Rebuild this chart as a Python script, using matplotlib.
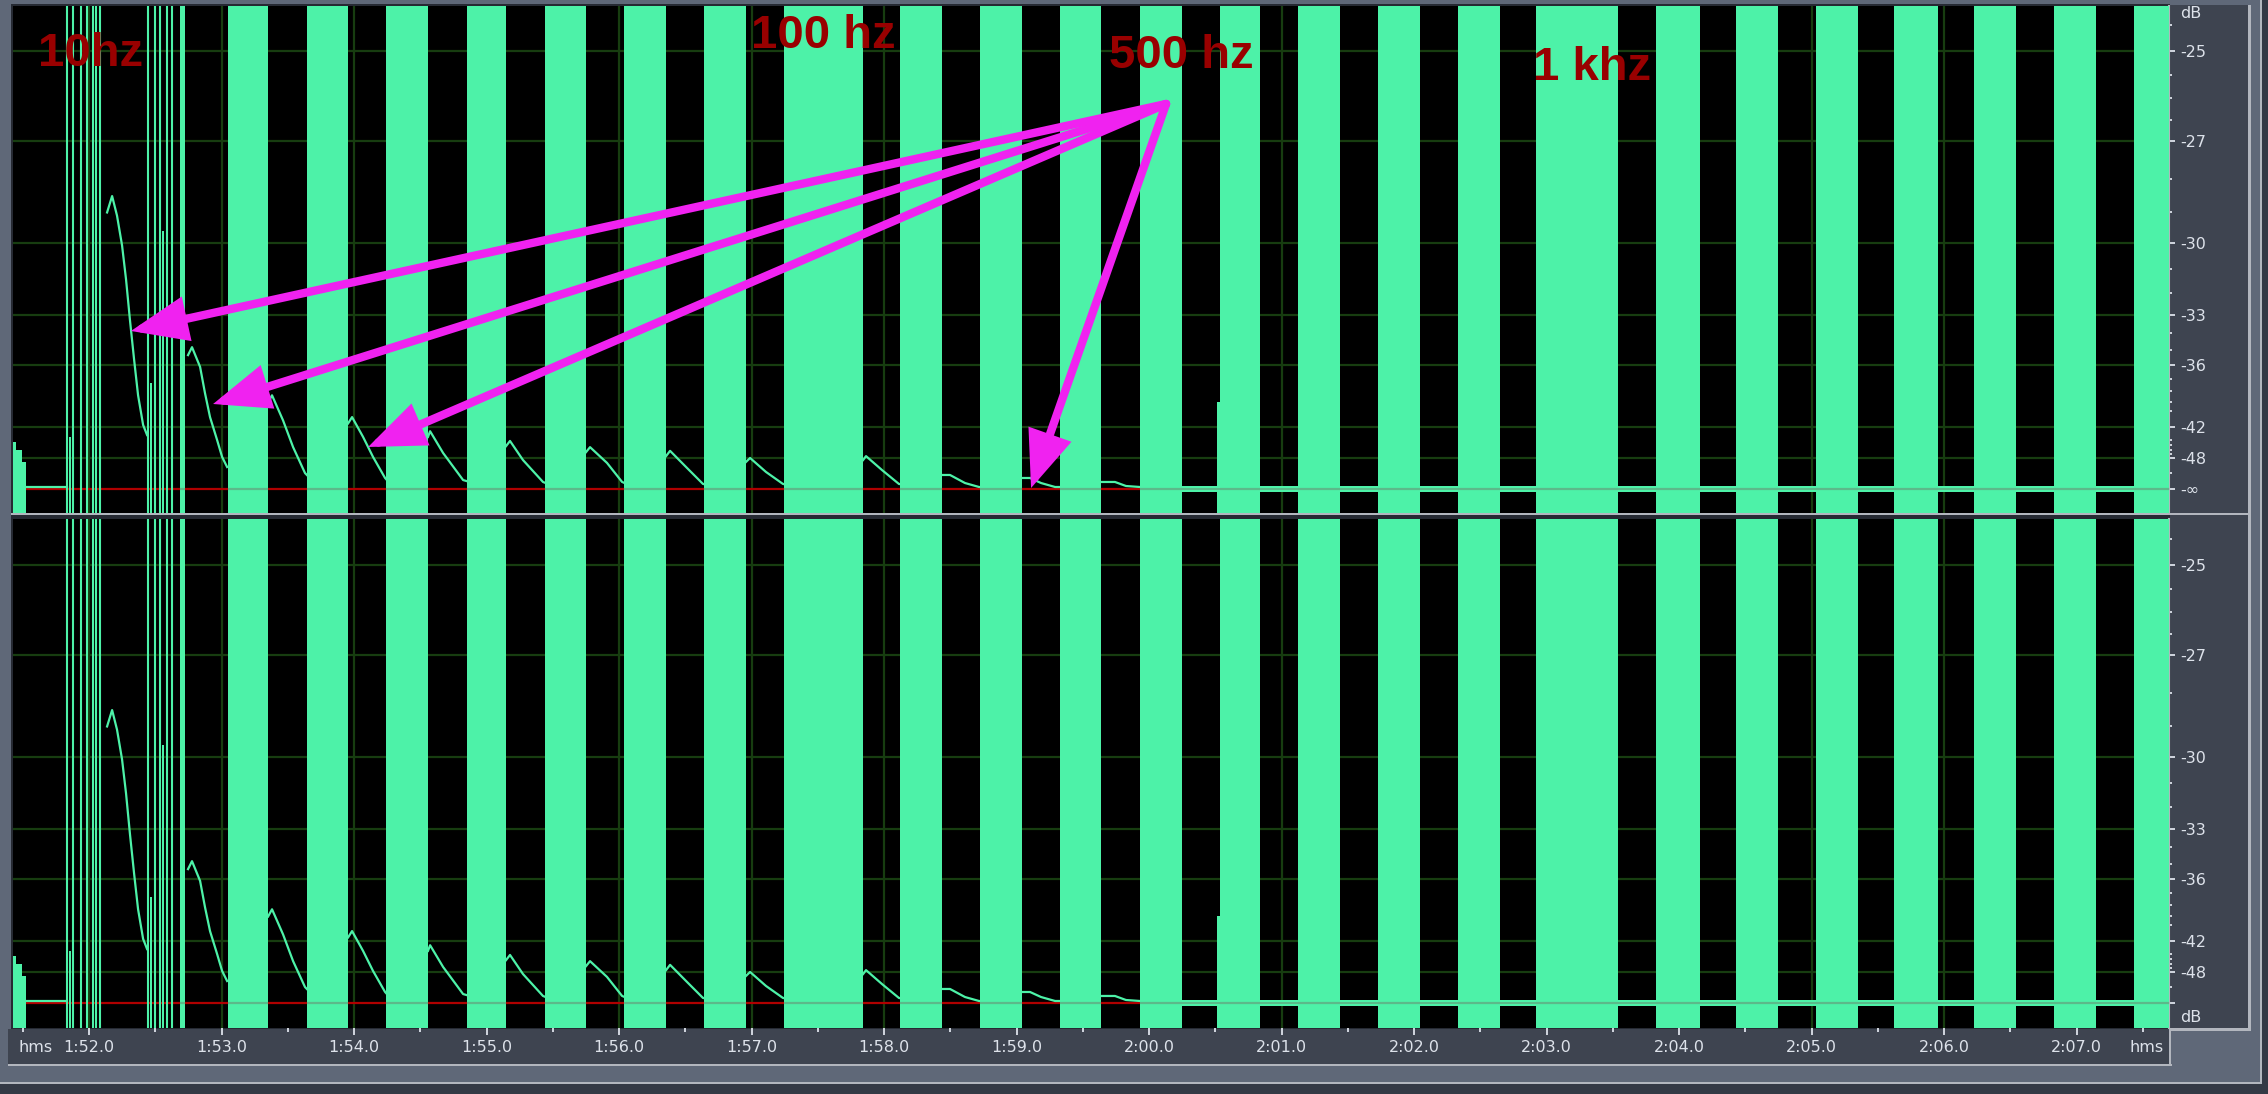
import numpy as np
import matplotlib.pyplot as plt
from matplotlib.patches import Rectangle

# ---- data (time in seconds, level in dBFS) ----
block_start = [112.687, 113.049, 113.645, 114.242, 114.853, 115.442, 116.038, 116.642,
               117.245, 118.121, 118.725, 119.328, 119.932, 120.536, 121.125, 121.728,
               122.332, 122.921, 123.826, 124.430, 125.034, 125.623, 126.226, 126.830,
               127.434]
block_end = [112.725, 113.351, 113.955, 114.558, 115.147, 115.751, 116.355, 116.958,
             117.842, 118.438, 119.042, 119.638, 120.249, 120.838, 121.442, 122.045,
             122.649, 123.540, 124.158, 124.747, 125.351, 125.955, 126.543, 127.147,
             127.750]

# thin full-height transients (10 hz and 100 hz bursts)
line_t = [111.834, 111.879, 111.940, 111.985, 112.030, 112.053, 112.083,
          112.445, 112.498, 112.536, 112.589, 112.626]

# partial-height pieces
partial_start = [111.845, 112.133, 112.463, 112.553, 120.513]
partial_end = [111.862, 112.139, 112.475, 112.563, 120.536]
partial_db = [-43.5, -29.0, -37.3, -29.6, -39.0]

burst_t = [111.426, 111.449, 111.494, 111.525]
burst_db = [-44.4, -46.0, -49.2, -49.2]

floor_t = [111.525, 111.834]
floor_db = -71.8
noise_db = -68.3

decay_t = [
    [112.136, 112.174, 112.211, 112.249, 112.279, 112.309, 112.340, 112.370, 112.408, 112.438],
    [112.747, 112.777, 112.838, 112.875, 112.913, 112.966, 113.004, 113.042],
    [113.351, 113.381, 113.464, 113.540, 113.630, 113.645],
    [113.955, 113.985, 114.068, 114.143, 114.234, 114.242],
    [114.558, 114.574, 114.672, 114.823, 114.853],
    [115.147, 115.177, 115.275, 115.426, 115.442],
    [115.751, 115.781, 115.909, 116.023, 116.038],
    [116.355, 116.385, 116.506, 116.634, 116.642],
    [116.958, 116.989, 117.109, 117.238, 117.245],
    [117.842, 117.864, 117.985, 118.113, 118.121],
    [118.438, 118.498, 118.611, 118.717, 118.725],
    [119.042, 119.102, 119.185, 119.291, 119.328],
    [119.638, 119.743, 119.826, 119.932],
]
decay_db = [
    [-29.0, -28.5, -29.1, -30.1, -31.4, -33.3, -35.6, -38.4, -41.7, -43.2],
    [-35.3, -34.8, -36.1, -38.2, -40.7, -44.0, -47.7, -51.0],
    [-39.1, -38.4, -41.1, -45.4, -53.8, -55.0],
    [-41.5, -40.7, -43.5, -47.7, -57.0, -58.0],
    [-43.5, -42.6, -46.7, -58.8, -60.0],
    [-45.2, -44.2, -48.6, -60.9, -62.0],
    [-46.5, -45.4, -49.5, -60.9, -62.0],
    [-47.5, -46.2, -51.0, -63.9, -64.0],
    [-49.2, -48.0, -53.2, -63.9, -64.0],
    [-48.6, -47.5, -52.3, -63.9, -64.0],
    [-54.9, -54.9, -62.3, -71.8, -71.8],
    [-57.0, -57.0, -62.3, -71.8, -71.8],
    [-60.9, -60.9, -68.3, -71.8],
]

db_ticks = [-25, -27, -30, -33, -36, -42, -48]
db_minor = [-24.5, -25.5, -26, -26.5, -28, -29, -31, -32, -34, -35, -37, -38, -39,
            -40, -44, -45, -46, -47, -54]
time_ticks = list(range(112, 128))

labels = ['10hz', '100 hz', '500 hz', '1 khz']
label_pos = [(0.0116, 0.881), (0.3423, 0.917), (0.5083, 0.878), (0.7050, 0.854)]
arrow_tail = (0.5348, 0.8067)
arrow_heads = [(0.0547, 0.3590), (0.0928, 0.2150), (0.1647, 0.1302), (0.4722, 0.0493)]

GREEN = '#4df2a8'
GRID = '#173d10'
RED = '#b00000'
MID = '#5cb98a'
STRIP = '#3e4450'
SLATE = '#5f6878'
LIGHT = '#b2b6be'
TXT = '#dde2ea'
MAG = '#f022f0'

W, H = 2268, 1094
T0, T1 = 111.426, 127.698


def amp(db):
    return 10 ** (np.asarray(db, dtype=float) / 20.0)


def px_rect(fig, x0, y0, x1, y1, color, z=-5):
    fig.patches.append(Rectangle((x0 / W, 1 - y1 / H), (x1 - x0) / W, (y1 - y0) / H,
                                 transform=fig.transFigure, facecolor=color,
                                 edgecolor='none', zorder=z))


def fmt_time(t):
    return f"{int(t // 60)}:{t % 60:04.1f}"


def draw_channel(ax, ylo, yhi, top):
    ax.set_facecolor('black')
    ax.set_xlim(T0, T1)
    ax.set_ylim(ylo, yhi)

    ax.hlines(amp(db_ticks), T0, T1, color=GRID, lw=1.6, zorder=1)
    ax.vlines(time_ticks, ylo, yhi, color=GRID, lw=1.6, zorder=1)
    ax.axhline(0, color=RED, lw=1.6, zorder=2)

    for s, e in zip(block_start, block_end):
        ax.axvspan(s, e, color=GREEN, lw=0, zorder=3)
    for t in line_t:
        ax.axvline(t, color=GREEN, lw=1.5, zorder=3)
    for s, e, d in zip(partial_start, partial_end, partial_db):
        ax.fill_between([s, e], ylo, amp(d), color=GREEN, lw=0, zorder=3)
    ax.fill_between(burst_t, ylo, amp(burst_db), step='post', color=GREEN, lw=0, zorder=3)
    ax.plot(floor_t, amp([floor_db, floor_db]), color=GREEN, lw=1.6, zorder=4)

    for t, d in zip(decay_t, decay_db):
        ax.plot(t, amp(d), color=GREEN, lw=1.6, zorder=4)

    # noise floor trace in the gaps after 2:00
    nf = float(amp(noise_db))
    for i in range(12, len(block_start) - 1):
        ax.fill_between([block_end[i], block_start[i + 1]], -nf, nf,
                        color=GREEN, lw=0, zorder=4)
    ax.fill_between([119.932, T1], -nf * 0.4, nf * 0.4, color=GREEN, lw=0, zorder=3.5)
    ax.hlines([0.0] * len(block_start), block_start, block_end, color=MID, lw=1.6, zorder=5)
    ax.hlines(0, 119.932, T1, color=MID, lw=1.4, zorder=5)

    # right dB ruler
    ax.yaxis.tick_right()
    ax.set_yticks(list(amp(db_ticks)) + [0.0])
    ax.set_yticklabels([str(d) for d in db_ticks] + (['-\u221e'] if top else ['']))
    ax.set_yticks(amp(db_minor), minor=True)
    ax.tick_params(axis='y', which='major', direction='out', length=4, width=1.3,
                   color=TXT, labelcolor=TXT, labelsize=11.5, pad=4)
    ax.tick_params(axis='y', which='minor', direction='out', length=1.8, width=1.3,
                   color=TXT)
    for side in ['top', 'bottom', 'left']:
        ax.spines[side].set_visible(False)
    ax.spines['right'].set_color(LIGHT)
    ax.spines['right'].set_linewidth(1.5)


fig = plt.figure(figsize=(W / 100, H / 100), dpi=100)
fig.patch.set_facecolor(SLATE)

# window chrome
px_rect(fig, 11, 4, 2170, 1030, '#262a33')
px_rect(fig, 2170, 5, 2248, 1029, STRIP)
px_rect(fig, 2248, 5, 2251, 1031, LIGHT)
px_rect(fig, 2170, 1028, 2251, 1031, LIGHT)
px_rect(fig, 11, 513, 2251, 515, LIGHT)
px_rect(fig, 8, 1029, 2170, 1064, STRIP)
px_rect(fig, 8, 1064, 2172, 1066, LIGHT)
px_rect(fig, 2169, 1029, 2171, 1066, LIGHT)
px_rect(fig, 0, 1082, 2262, 1084, LIGHT)
px_rect(fig, 0, 1084, W, H, '#343945')
px_rect(fig, 2260, 0, 2262, 1084, LIGHT)
px_rect(fig, 2262, 0, W, H, '#343945')

ax_top = fig.add_axes([13 / W, 1 - 513 / H, 2156 / W, 507 / H])
ax_bot = fig.add_axes([13 / W, 1 - 1028 / H, 2156 / W, 509 / H])

draw_channel(ax_top, -24 / 7794, 483 / 7794, True)
draw_channel(ax_bot, -25 / 7794, 484 / 7794, False)

ax_top.set_xticks([])
ax_bot.set_xticks(time_ticks)
ax_bot.set_xticklabels([fmt_time(t) for t in time_ticks])
ax_bot.set_xticks([t + 0.5 for t in range(111, 128)], minor=True)
ax_bot.tick_params(axis='x', which='major', direction='out', length=5, width=1.3,
                   color=TXT, labelcolor=TXT, labelsize=11.5, pad=4)
ax_bot.tick_params(axis='x', which='minor', direction='out', length=3, width=1.3,
                   color=TXT)

# annotations
for s, (x, y) in zip(labels, label_pos):
    ax_top.text(x, y, s, transform=ax_top.transAxes, ha='left', va='baseline',
                fontsize=34, fontweight='bold', family='Liberation Sans',
                color='#990000', zorder=12)
for head in arrow_heads:
    ax_top.annotate('', xy=head, xytext=arrow_tail, xycoords='axes fraction',
                    textcoords='axes fraction', zorder=11,
                    arrowprops=dict(arrowstyle='-|>,head_length=1.5,head_width=0.6',
                                    color=MAG, lw=6, mutation_scale=20,
                                    shrinkA=0, shrinkB=0, joinstyle='miter'))

fig.text(18 / W, 1 - 1048 / H, 'hms', color=TXT, fontsize=11.5, va='center', ha='left')
fig.text(2164 / W, 1 - 1048 / H, 'hms', color=TXT, fontsize=11.5, va='center', ha='right')
fig.text(2180 / W, 1 - 14 / H, 'dB', color=TXT, fontsize=11.5, va='center', ha='left')
fig.text(2180 / W, 1 - 1018 / H, 'dB', color=TXT, fontsize=11.5, va='center', ha='left')

fig.savefig('out.png', dpi=100, facecolor=fig.get_facecolor())
